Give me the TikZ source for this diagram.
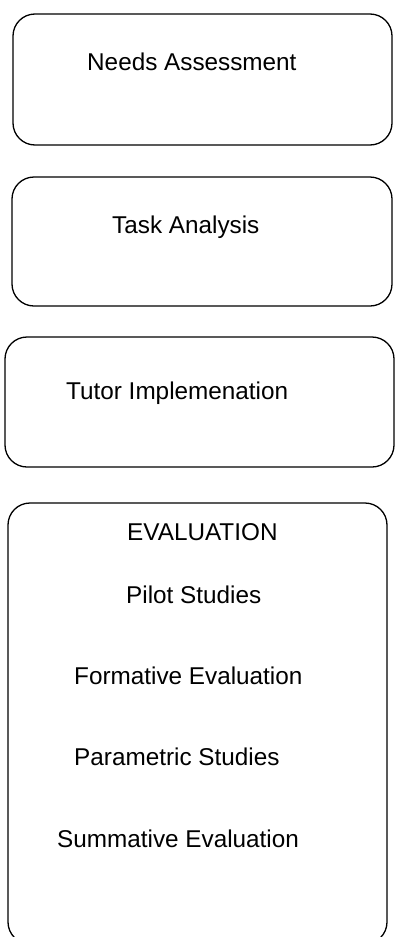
\documentclass[tikz,border=0pt]{standalone}
\usepackage{fontspec}
\setmainfont{Liberation Sans}
\tikzset{
  box/.style={line width=1.3pt, rounded corners=22pt},
  lbl/.style={anchor=base west, inner sep=0pt, font=\fontsize{24.3}{29}\selectfont}
}
\begin{document}
\begin{tikzpicture}[x=1pt, y=-1pt]
\clip (0,0) rectangle (395,937);
% the four stages
\draw[box] (13,14) rectangle (392,145);
\draw[box] (12,177) rectangle (392,306);
\draw[box] (5,337) rectangle (394,467);
\draw[box] (8,503) rectangle (387,944);
\node[lbl] (needs) at (87,70) {Needs Assessment};
\node[lbl] (task) at (112,233) {Task Analysis};
\node[lbl] (tutor) at (66,399) {Tutor Implemenation};
% evaluation and its parts
\node[lbl] (eval) at (127,540) {EVALUATION};
\node[lbl] (pilot) at (126,603) {Pilot Studies};
\node[lbl] (formative) at (74,684) {Formative Evaluation};
\node[lbl] (parametric) at (74,765) {Parametric Studies};
\node[lbl] (summative) at (57,847) {Summative Evaluation};
\end{tikzpicture}
\end{document}
